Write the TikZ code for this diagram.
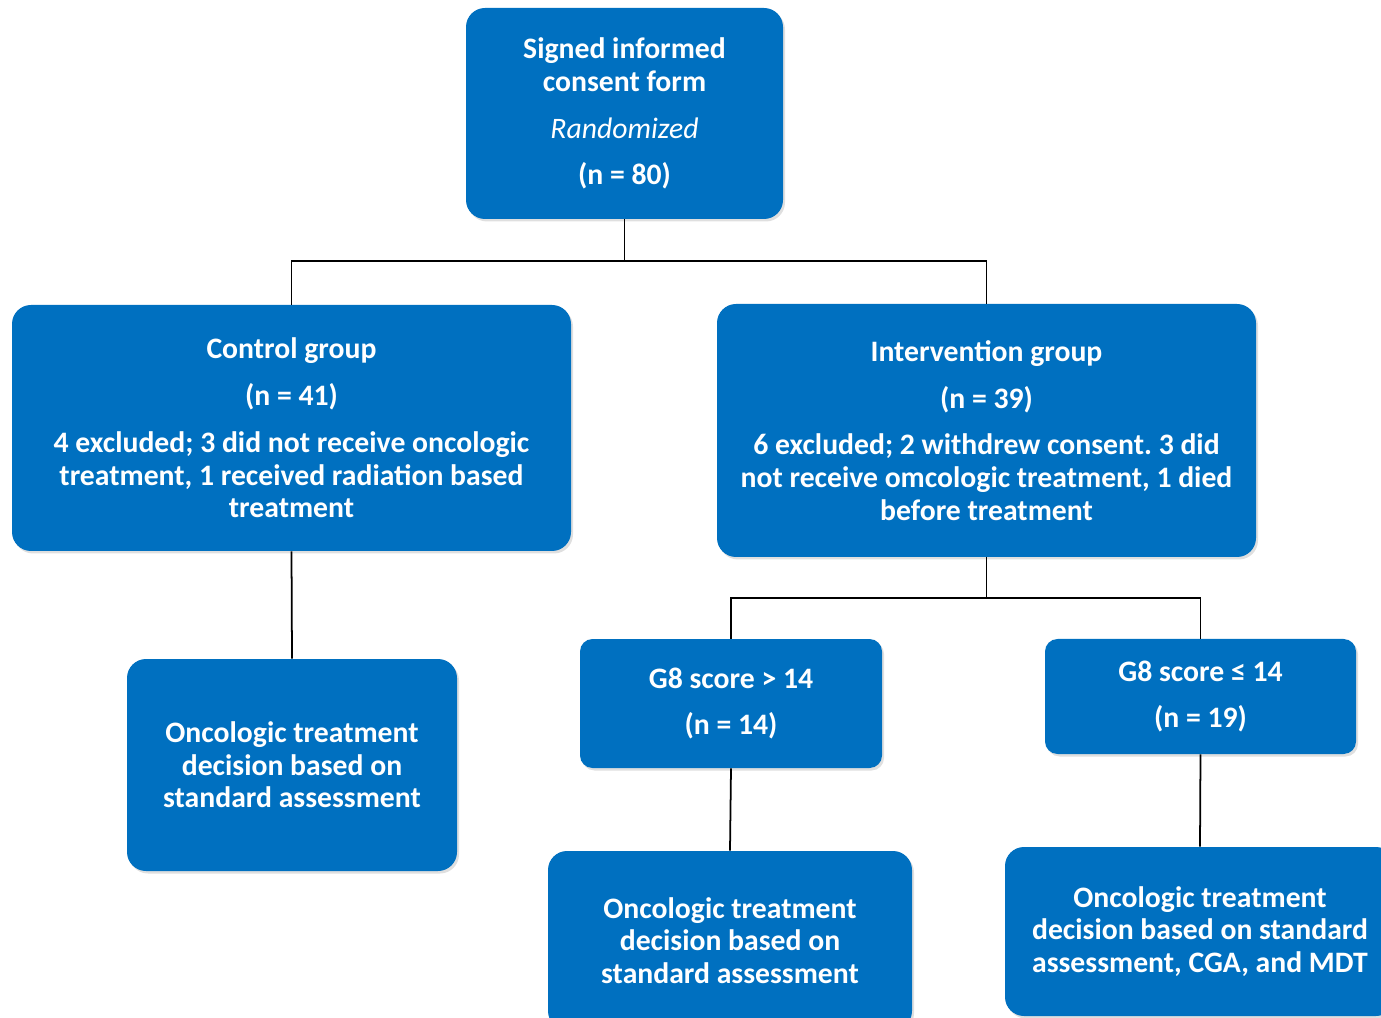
\documentclass[tikz,border=0pt]{standalone}
\usepackage{fontspec}
\setmainfont{Carlito}
\usepackage{xcolor}
\usetikzlibrary{shadows}

\definecolor{boxblue}{HTML}{0070C0}

\tikzset{
  box/.style={draw=none, fill=boxblue, text=white, align=center,
    rounded corners=0.38cm, inner sep=0pt,
    font=\fontsize{16.9}{18.6}\selectfont\bfseries,
    drop shadow={opacity=0.25, shadow xshift=0.04cm, shadow yshift=-0.05cm}},
  link/.style={draw=black, line width=1pt}
}

\begin{document}
\begin{tikzpicture}
             \useasboundingbox (0,0) rectangle (27.62,-20.36);

             % top
             \node[box, minimum width=6.34cm, minimum height=4.22cm] (consent) at (12.49,-2.27)
                  {Signed informed\\consent form\\[8pt]{\mdseries\itshape Randomized}\\[8pt](n = 80)};

             % groups
             \node[box, minimum width=11.18cm, minimum height=4.92cm] (control) at (5.83,-8.56)
                  {Control group\\[8pt](n = 41)\\[8pt]4 excluded; 3 did not receive oncologic\\treatment, 1 received radiation based\\treatment};
             \node[box, minimum width=10.78cm, minimum height=5.06cm] (interv) at (19.73,-8.61)
                  {Intervention group\\[8pt](n = 39)\\[8pt]6 excluded; 2 withdrew consent.\ 3 did\\not receive omcologic treatment, 1 died\\before treatment};

             % control arm
             \node[box, minimum width=6.6cm, minimum height=4.24cm] (ctrlres) at (5.84,-15.3)
                  {Oncologic treatment\\decision based on\\standard assessment};

             % intervention arm
             \node[box, rounded corners=0.25cm, minimum width=6.04cm, minimum height=2.58cm] (g8high) at (14.62,-14.07)
                  {G8 score > 14\\[8pt](n = 14)};
             \node[box, rounded corners=0.25cm, minimum width=6.22cm, minimum height=2.3cm] (g8low) at (24.01,-13.93)
                  {G8 score ≤ 14\\[8pt](n = 19)};
             \node[box, minimum width=7.28cm, minimum height=3.58cm] (highres) at (14.6,-18.81)
                  {Oncologic treatment\\decision based on\\standard assessment};
             \node[box, minimum width=7.8cm, minimum height=3.38cm] (lowres) at (24.0,-18.63)
                  {Oncologic treatment\\decision based on standard\\assessment, CGA, and MDT};

             % connectors
             \draw[link] (consent.south) -- ++(0,-0.84) -| (control.north);
             \draw[link] (consent.south) -- ++(0,-0.84) -| (interv.north);
             \draw[link] (control.south) -- (ctrlres.north);
             \draw[link] (interv.south) -- ++(0,-0.82) -| (g8high.north);
             \draw[link] (interv.south) -- ++(0,-0.82) -| (g8low.north);
             \draw[link] (g8high.south) -- (highres.north);
             \draw[link] (g8low.south) -- (lowres.north);
             \end{tikzpicture}
\end{document}
